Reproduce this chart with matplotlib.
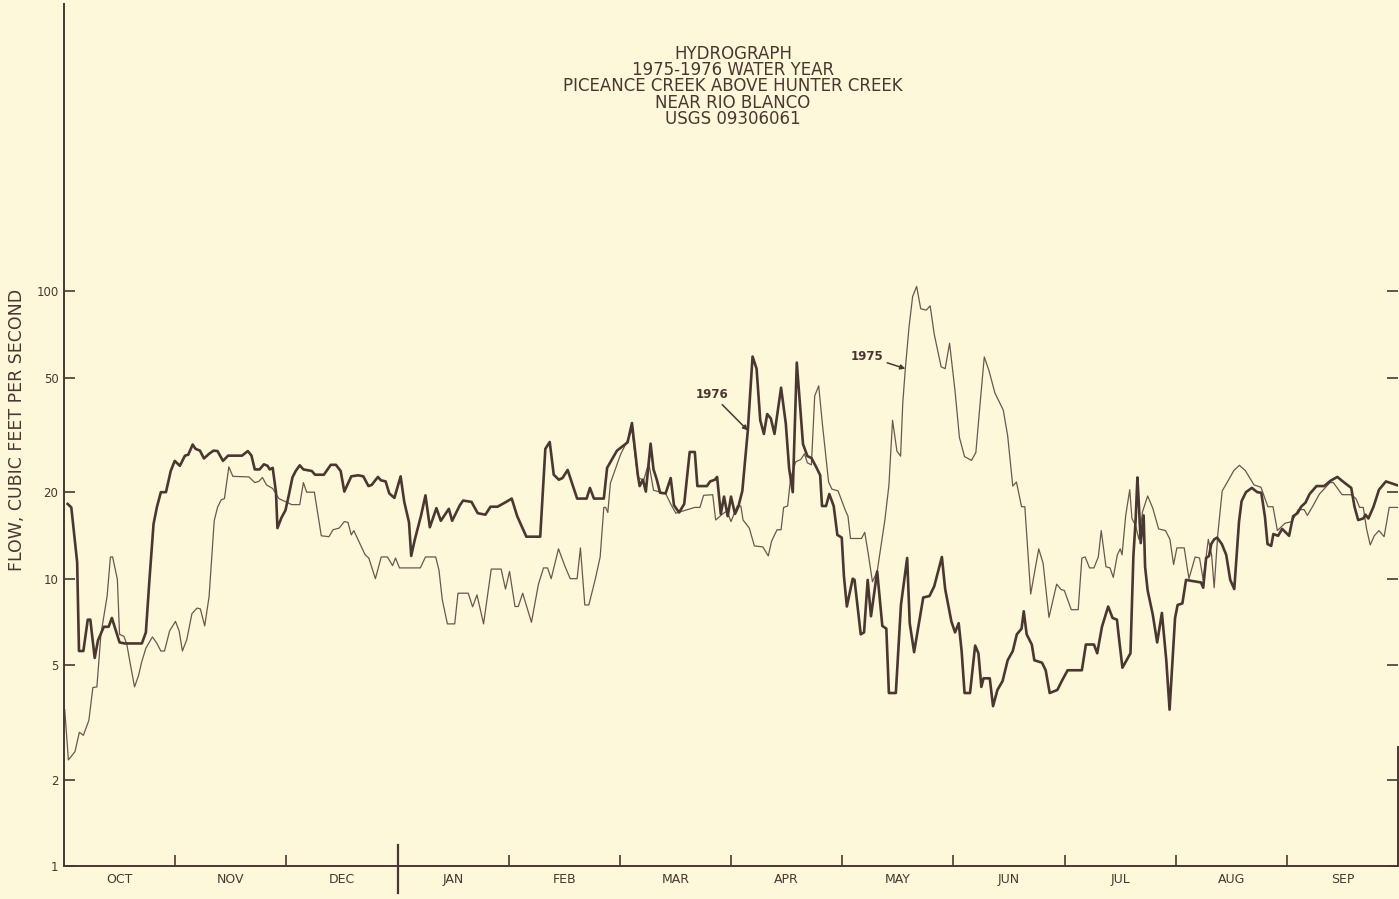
import matplotlib.pyplot as plt
from matplotlib.ticker import NullLocator

# water year runs Oct -> Sep, positions are days of the water year
months = ['OCT', 'NOV', 'DEC', 'JAN', 'FEB', 'MAR', 'APR', 'MAY', 'JUN', 'JUL', 'AUG', 'SEP']
flow_ticks = [1, 2, 5, 10, 20, 50, 100]
flow_labels = ['1', '2', '5', '10', '20', '50', '100']

# 1976 water year (heavy line)
days_1976 = [1.0, 2.0, 3.6, 4.1, 5.3, 6.5, 7.2, 8.4, 9.3, 10.9, 12.2, 13.1, 15.2, 16.6, 21.3,
             22.4, 23.4, 24.5, 25.4, 26.5, 27.9, 29.2, 30.3, 31.7, 33.1, 34.0, 35.2, 36.0, 37.2,
             38.3, 39.7, 40.9, 42.0, 43.5, 44.9, 48.7, 50.3, 51.3, 52.2, 53.5, 54.7, 55.7, 56.3,
             57.1, 58.0, 58.4, 59.5, 60.6, 61.5, 62.5, 63.4, 64.5, 65.5, 67.8, 68.7, 71.1, 73.0,
             74.4, 75.7, 76.7, 78.6, 80.5, 81.9, 83.3, 84.2, 85.9, 86.7, 88.0, 89.0, 90.4, 92.1,
             93.1, 94.4, 95.0, 96.0, 97.7, 98.9, 100.1, 101.9, 103.1, 105.3, 106.2, 108.3, 109.2,
             111.5, 113.2, 115.3, 116.7, 118.6, 121.0, 122.5, 124.0, 126.5, 130.3, 131.7, 132.9,
             134.0, 135.4, 136.4, 137.8, 140.4, 143.0, 143.9, 145.0, 147.7, 148.6, 151.3, 154.2,
             155.4, 157.0, 157.5, 158.4, 159.2, 160.5, 161.3, 162.2, 163.1, 164.6, 166.0, 166.9,
             168.3, 169.7, 171.2, 172.6, 173.3, 175.9, 176.8, 178.1, 178.7, 179.7, 180.6, 181.6,
             182.5, 183.6, 184.5, 185.6, 187.1, 188.4, 189.5, 190.5, 191.5, 192.4, 193.4, 194.4,
             196.2, 197.5, 198.4, 199.4, 200.5, 201.3, 202.2, 203.4, 204.5, 206.0, 206.9, 207.4,
             208.5, 209.4, 210.6, 211.6, 212.8, 213.4, 214.2, 215.8, 216.3, 218.0, 218.9, 219.9,
             220.8, 222.5, 223.9, 225.0, 225.7, 227.6, 229.0, 230.7, 231.4, 232.6, 235.1, 236.8,
             238.1, 240.2, 241.1, 242.8, 243.8, 244.8, 245.6, 246.4, 247.9, 249.3, 250.2, 251.0,
             251.6, 253.3, 254.2, 255.4, 256.8, 258.2, 259.6, 260.7, 262.0, 262.6, 263.4, 264.8,
             265.5, 267.6, 268.6, 269.7, 271.8, 273.0, 274.6, 278.5, 279.6, 281.8, 282.7, 284.0,
             285.7, 286.9, 288.1, 288.6, 289.6, 291.8, 292.6, 293.2, 293.7, 294.1, 294.6, 295.4,
             295.8, 296.5, 297.9, 299.1, 300.4, 301.6, 302.5, 304.0, 304.7, 306.0, 307.0, 311.1,
             311.7, 312.5, 313.3, 313.9, 314.7, 315.5, 316.8, 318.0, 319.1, 320.2, 321.5, 322.2,
             323.4, 325.0, 326.5, 327.6, 328.6, 329.3, 330.3, 330.9, 332.2, 333.3, 335.2, 336.3,
             337.5, 338.5, 339.7, 340.8, 342.7, 344.8, 346.5, 348.4, 350.3, 352.2, 353.1, 354.1,
             355.5, 356.1, 356.9, 358.3, 359.8, 361.7, 365.0]
flow_1976 = [18.2, 17.7, 11.4, 5.6, 5.6, 7.2, 7.2, 5.3, 6.1, 6.8, 6.8, 7.3, 6.0, 5.95, 5.95,
             6.5, 10.0, 15.5, 17.7, 20.0, 20.0, 23.7, 25.7, 24.7, 26.8, 27.0, 29.3, 28.3, 27.9,
             26.2, 27.2, 27.9, 27.8, 25.7, 26.8, 26.8, 27.8, 26.8, 24.0, 24.0, 25.0, 24.7, 24.0,
             24.3, 20.0, 15.0, 16.3, 17.3, 19.5, 22.5, 23.7, 24.8, 24.0, 23.7, 23.0, 23.0, 24.9,
             24.9, 23.7, 20.1, 22.7, 22.9, 22.7, 21.0, 21.2, 22.6, 22.0, 21.8, 19.8, 19.1, 22.7,
             18.5, 15.7, 12.0, 13.7, 16.6, 19.5, 15.1, 17.6, 15.9, 17.5, 15.9, 18.0, 18.7,
             18.5, 16.9, 16.7, 17.8, 17.8, 18.5, 19.0, 16.5, 14.0, 14.0, 28.3, 29.9,
             23.0, 22.1, 22.4, 23.9, 19.0, 19.0, 20.7, 19.0, 19.0, 24.3, 27.9, 29.8,
             34.8, 23.0, 21.0, 22.1, 20.1, 29.5, 24.0, 22.1, 19.9, 19.8, 22.4, 18.0,
             17.0, 18.2, 27.6, 27.6, 21.0, 21.0, 21.8, 22.1, 22.6, 16.8, 19.3, 16.5,
             19.3, 16.8, 17.8, 20.2, 32.8, 59.3, 53.8, 35.6, 31.9, 37.4, 36.1, 31.9,
             46.2, 34.6, 24.2, 20.0, 56.5, 41.4, 29.4, 26.7, 26.3, 24.2, 22.9, 17.9,
             17.9, 19.7, 17.9, 14.2, 13.9, 10.2, 8.0, 10.0, 9.9, 6.4, 6.5, 9.9,
             7.4, 10.6, 6.85, 6.7, 4.0, 4.0, 8.1, 11.8, 7.0, 5.55, 8.6, 8.7,
             9.4, 11.9, 9.2, 7.1, 6.5, 7.0, 5.6, 4.0, 4.0, 5.85, 5.5, 4.2,
             4.5, 4.5, 3.6, 4.1, 4.4, 5.2, 5.6, 6.4, 6.7, 7.7, 6.4, 5.9,
             5.2, 5.1, 4.8, 4.0, 4.1, 4.4, 4.8, 4.8, 5.9, 5.9, 5.5, 6.8,
             8.0, 7.3, 7.2, 6.3, 4.9, 5.5, 12.0, 15.9, 22.5, 18.1, 13.3, 16.6,
             11.0, 9.1, 7.5, 6.0, 7.6, 5.2, 3.5, 7.3, 8.1, 8.2, 9.9, 9.7,
             9.3, 11.8, 12.0, 13.2, 13.7, 13.9, 13.2, 12.1, 9.9, 9.2, 15.8, 18.6,
             20.0, 20.7, 20.0, 19.9, 16.4, 13.2, 13.0, 14.3, 14.1, 14.9, 14.1, 16.5,
             16.9, 17.8, 18.4, 19.7, 21.0, 21.0, 21.9, 22.6, 21.6, 20.7, 17.8, 16.0,
             16.2, 16.7, 16.2, 17.8, 20.4, 21.8, 21.1]

# 1975 water year (light line)
days_1975 = [0.2, 1.2, 3.0, 4.2, 5.3, 6.8, 7.9, 9.0, 10.1, 11.8, 12.7, 13.3, 14.6, 15.2, 16.4,
             17.2, 18.2, 19.3, 20.4, 21.2, 22.4, 24.2, 25.4, 26.5, 27.5, 28.9, 30.5, 31.5, 32.4,
             33.6, 35.0, 36.4, 37.3, 38.5, 39.7, 40.4, 41.1, 42.0, 43.0, 43.9, 45.1, 46.2, 50.6,
             52.2, 53.3, 54.3, 55.4, 57.1, 58.8, 60.7, 62.3, 64.5, 65.5, 66.4, 68.5, 70.4, 72.5,
             73.6, 75.3, 76.7, 77.7, 78.6, 79.3, 82.4, 83.4, 85.2, 86.8, 88.5, 89.9, 90.7, 91.8,
             97.5, 98.9, 101.7, 102.6, 103.5, 104.9, 106.9, 107.8, 110.6, 111.8, 113.0, 114.8,
             116.9, 119.6, 120.8, 121.9, 123.4, 124.3, 125.5, 127.9, 129.8, 131.2, 132.3, 133.3,
             135.3, 137.0, 138.5, 140.4, 141.3, 142.5, 143.6, 145.4, 146.7, 147.7, 148.2, 148.8,
             149.5, 152.3, 154.2, 155.4, 157.0, 158.6, 160.0, 161.3, 164.6, 166.0, 167.4, 172.6,
             174.0, 175.0, 177.5, 178.3, 180.2, 181.4, 182.5, 184.2, 185.2, 185.8, 187.5, 188.9,
             191.2, 192.7, 193.6, 195.1, 196.2, 196.9, 198.0, 198.8, 200.2, 201.6, 202.6, 203.4,
             204.5, 205.4, 206.5, 207.5, 209.2, 210.1, 211.8, 213.7, 214.5, 215.2, 218.2, 219.1,
             220.1, 221.2, 222.5, 224.6, 225.7, 226.7, 227.9, 228.9, 229.5, 230.2, 231.2, 232.2,
             233.3, 234.4, 235.9, 237.0, 238.1, 240.0, 241.1, 242.3, 243.8, 245.0, 246.4, 248.3,
             249.5, 250.7, 251.8, 253.1, 254.7, 257.0, 258.2, 259.6, 260.6, 262.0, 262.9, 264.5,
             266.7, 267.9, 269.5, 271.6, 272.8, 273.7, 275.6, 277.5, 278.5, 279.4, 280.6, 281.8,
             283.0, 283.8, 285.1, 286.2, 287.1, 288.2, 289.0, 289.5, 290.5, 291.6, 292.2, 293.2,
             294.1, 295.1, 296.5, 297.9, 299.5, 301.4, 302.6, 303.6, 304.5, 306.5, 307.8, 309.5,
             310.7, 311.7, 313.1, 314.0, 314.7, 315.7, 316.9, 318.5, 320.1, 321.6, 323.2, 325.6,
             327.5, 329.4, 330.8, 332.0, 334.1, 336.0, 337.7, 339.3, 340.2, 341.6, 343.5, 346.4,
             347.3, 349.7, 352.1, 353.5, 354.5, 355.5, 356.4, 357.4, 358.5, 359.8, 361.2, 362.6,
             365.0]
flow_1975 = [3.5, 2.34, 2.5, 2.92, 2.85, 3.21, 4.18, 4.2, 6.4, 8.7, 11.9, 11.9, 9.95, 6.4, 6.3,
             5.9, 5.0, 4.2, 4.6, 5.1, 5.73, 6.27, 5.96, 5.6, 5.6, 6.58, 7.1, 6.58, 5.6,
             6.14, 7.55, 7.9, 7.85, 6.85, 8.67, 11.7, 15.9, 17.7, 18.8, 19.0, 24.5, 22.7, 22.6,
             21.6, 21.8, 22.5, 21.2, 20.6, 19.0, 18.5, 18.1, 18.1, 21.6, 20.0, 20.0, 14.1, 14.0,
             14.8, 15.0, 15.8, 15.7, 14.2, 14.7, 12.1, 11.8, 10.0, 11.9, 11.9, 11.1, 11.8, 10.9,
             10.9, 11.9, 11.9, 10.7, 8.45, 6.96, 6.96, 8.9, 8.9, 7.98, 8.78, 6.96,
             10.8, 10.8, 9.2, 10.6, 8.0, 8.0, 8.9, 7.05, 9.55, 10.9, 10.9, 10.0,
             12.7, 11.1, 10.0, 10.0, 12.8, 8.1, 8.1, 10.0, 11.9, 17.7, 17.7, 17.0,
             21.5, 27.1, 30.3, 33.0, 22.5, 22.0, 25.3, 20.3, 19.8, 18.2, 16.9, 17.7,
             17.7, 19.5, 19.6, 16.0, 16.8, 17.2, 15.8, 17.9, 17.9, 16.0, 15.0, 13.0,
             12.9, 12.0, 13.5, 14.8, 14.8, 17.7, 17.9, 22.3, 25.5, 26.0, 27.2, 25.3,
             24.9, 43.2, 46.9, 34.6, 21.7, 20.5, 20.2, 17.4, 16.5, 13.8, 13.8, 14.5,
             12.1, 9.75, 10.6, 16.0, 21.1, 35.6, 27.8, 26.7, 40.9, 53.8, 74.9, 96.0,
             104.0, 87.0, 86.0, 89.0, 71.0, 54.6, 53.8, 66.0, 45.0, 31.0, 26.6, 25.8,
             27.5, 41.3, 59.1, 52.9, 44.3, 38.6, 31.4, 21.0, 21.7, 17.8, 17.8, 8.84,
             12.7, 11.3, 7.33, 9.57, 9.17, 9.1, 7.8, 7.8, 11.8, 11.9, 10.9, 10.9,
             11.9, 14.7, 11.0, 10.9, 10.1, 12.1, 12.7, 12.1, 16.6, 20.4, 16.2, 15.3,
             13.7, 17.1, 19.4, 17.6, 14.9, 14.7, 13.7, 11.2, 12.8, 12.8, 10.0, 11.9,
             11.8, 9.9, 13.7, 12.1, 9.3, 14.3, 20.2, 21.9, 23.8, 24.8, 23.8, 21.2,
             20.8, 17.8, 17.8, 14.7, 15.6, 15.8, 17.4, 17.4, 16.6, 17.8, 19.7, 21.6,
             21.6, 19.6, 19.6, 19.0, 17.7, 17.7, 14.9, 13.1, 14.1, 14.7, 14.0, 17.7,
             17.7]

title_lines = ['HYDROGRAPH', '1975-1976 WATER YEAR', 'PICEANCE CREEK ABOVE HUNTER CREEK',
               'NEAR RIO BLANCO', 'USGS 09306061']

paper = '#fcf8d9'
ink = '#4a3732'
ink_light = '#6a5750'

fig = plt.figure(figsize=(13.99, 8.99), dpi=100)
fig.patch.set_facecolor(paper)
ax = fig.add_axes([64 / 1399, 33 / 899, 1334 / 1399, 862 / 899])
ax.set_facecolor(paper)

# the two hydrographs
ax.plot(days_1975, flow_1975, color=ink_light, lw=0.9, solid_joinstyle='round')
ax.plot(days_1976, flow_1976, color=ink, lw=1.9, solid_joinstyle='round')

ax.set_yscale('log')
ax.set_ylim(1, 1000)
ax.set_xlim(0, 365)

# y axis: ticks inside, on both sides, labels only left
ax.set_yticks(flow_ticks)
ax.set_yticklabels(flow_labels)
ax.yaxis.set_minor_locator(NullLocator())
ax.tick_params(axis='y', direction='in', length=8, width=1.2, color=ink,
               labelcolor=ink, labelsize=8.5, pad=4, right=True)

# x axis: month boundaries as ticks, month names centred between them
month_len = 365 / 12
edges = [month_len * k for k in range(1, 12)]
mids = [month_len * (k + 0.5) for k in range(12)]
ax.set_xticks(edges)
ax.set_xticklabels([])
ax.set_xticks(mids, minor=True)
ax.set_xticklabels(months, minor=True)
ax.tick_params(axis='x', which='major', direction='in', length=8, width=1.2, color=ink)
ax.tick_params(axis='x', which='minor', length=0, labelsize=9, labelcolor=ink, pad=5)

# calendar year break between DEC and JAN
ax.plot([edges[2], edges[2]], [-0.031, 0.024], transform=ax.get_xaxis_transform(),
        color=ink, lw=1.6, clip_on=False)

ax.spines['top'].set_visible(False)
for side in ['left', 'bottom', 'right']:
    ax.spines[side].set_color(ink)
    ax.spines[side].set_linewidth(1.4)
ax.spines['right'].set_bounds(1, 2.6)

# labels pointing at each year's curve
i76 = days_1976.index(187.1)
ax.annotate('1976', xy=(days_1976[i76], flow_1976[i76]), xytext=(-14, 26),
            textcoords='offset points', ha='right', va='center', fontsize=8.5,
            fontweight='bold', color=ink,
            arrowprops=dict(arrowstyle='-|>', color=ink, lw=1.1, mutation_scale=7,
                            shrinkA=1, shrinkB=0))
i75 = days_1975.index(230.2)
ax.annotate('1975', xy=(days_1975[i75], flow_1975[i75]), xytext=(-16, 9),
            textcoords='offset points', ha='right', va='center', fontsize=8.5,
            fontweight='bold', color=ink,
            arrowprops=dict(arrowstyle='-|>', color=ink, lw=1.1, mutation_scale=7,
                            shrinkA=1, shrinkB=0))

fig.text(733 / 1399, 1 - 45 / 899, '\n'.join(title_lines), ha='center', va='top',
         fontsize=12, color=ink, linespacing=0.87)
fig.text(17 / 1399, 1 - 430 / 899, 'FLOW, CUBIC FEET PER SECOND', rotation=90,
         ha='center', va='center', fontsize=12.5, color=ink)

fig.savefig('out.png', dpi=100, facecolor=paper)
